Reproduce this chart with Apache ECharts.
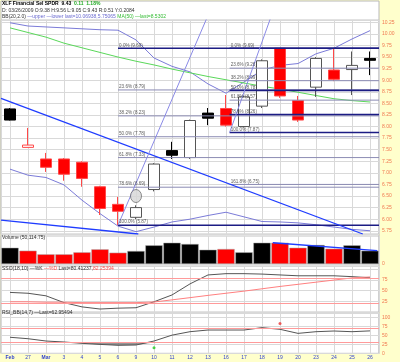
<!DOCTYPE html>
<html><head><meta charset="utf-8">
<script src="https://cdn.jsdelivr.net/npm/echarts@6/dist/echarts.min.js"></script>
<style>html,body{margin:0;padding:0;background:#ffffcc}#c{width:400px;height:362px}</style>
</head><body><div id="c"></div>
<script>
// ---------- data ----------
const dates   = ['Feb','27','Mar','3','4','5','6','9','10','11','12','13','16','17','18','19','20','23','24','25','26'];
const opens   = [8.38,7.55,7.30,7.30,7.23,6.70,6.32,6.04,6.64,7.48,7.33,8.29,8.39,8.00,8.44,9.69,8.56,8.85,9.22,9.23,9.47];
const closes  = [8.14,7.60,7.12,6.97,6.88,6.23,6.17,6.25,7.19,7.38,8.13,8.18,8.03,8.64,9.42,8.66,8.14,9.47,9.02,9.32,9.43];
const highs   = [8.40,7.97,7.43,7.32,7.25,6.72,6.48,6.30,7.21,7.67,8.15,8.40,8.68,8.67,9.45,9.69,8.66,9.50,9.69,9.62,9.62];
const lows    = [8.13,7.55,7.02,6.83,6.70,6.09,5.87,6.00,6.60,7.30,7.30,8.03,8.00,7.98,8.40,8.62,8.10,8.64,8.98,8.68,9.11];
const volumes = [302,247,180,180,217,273,210,241,347,395,371,265,278,217,395,395,302,352,284,347,246.7]; // millions
const bbUpper = [10.24,10.17,10.15,10.13,10.11,10.09,10.08,9.87,9.48,9.30,9.18,8.92,8.72,8.96,9.22,9.32,9.36,9.57,9.69,9.89,10.07];
const bbLower = [7.08,6.95,6.90,6.74,6.41,6.12,5.85,5.73,5.83,5.94,6.00,6.08,6.15,6.05,5.95,5.94,5.92,5.88,5.83,5.78,5.75];
const ma50    = [10.13,10.03,9.93,9.80,9.70,9.60,9.50,9.41,9.33,9.24,9.16,9.08,9.01,8.94,8.87,8.81,8.74,8.67,8.60,8.56,8.53];
const stoK    = [46,44,38,22,12,7,9,10,24,40,66,87,90,90,89,87,85,85,85,83,80.4];
const stoD    = [24,24,23,23,22,22,22,22,23.5,28.5,33.7,39,44,49,54.5,60,65,70,75,80,82.3];
const rsi     = [45,41,34.5,31.7,28,25,22.5,23.3,34.5,51,60.7,65.4,65.4,65.4,72,67.4,56,60.7,62.6,60.7,62.95];
const priceTicks = [5.75,6.00,6.25,6.50,6.75,7.00,7.25,7.50,7.75,8.00,8.25,8.50,8.75,9.00,9.25,9.50,9.75,10.00,10.25];
// Fibonacci retracement annotations (label % and price)
const fibLeftStart = 6.0, fibLeftPct = ['0.0%','23.6%','38.2%','50.0%','61.8%','78.6%','100.0%'];
const fibLeftPrice = [9.69,8.79,8.23,7.78,7.33,6.69,5.87];
const fibRightStart = 12.2, fibRightPct = ['0.0%','23.6%','38.2%','50.0%','61.8%','78.6%','100.0%','161.8%'];
const fibRightPrice = [9.69,9.26,8.99,8.78,8.57,8.26,7.87,6.75];
// drawn trend / speed lines: [x(index), price]
const trend1 = [[-0.5,8.61],[19.6,5.68]];
const trend2 = [[-0.5,5.98],[7.13,5.68]];
const speedA = [[6,5.87],[11,10.40]];
const speedB = [[12.2,7.87],[14.5,10.37]];
const volTrend = [[14.6,395],[20.4,247]];
const ellipse = [[7,6.50]];
const rsiBuy = [[8,15.7]], rsiSell = [[15,84]];

// ---------- chart ----------
const F = 'Liberation Sans, Arial, sans-serif';
const LBL = '#f07850', GRID = '#d9d9d9';
const candleData = closes.map((c,i)=>{
  const red = i>0 && c < closes[i-1];
  const hollow = c > opens[i];
  const fill = hollow ? '#ffffff' : (red ? '#ff0000' : '#000000');
  const border = red ? '#ff4848' : (hollow ? '#555555' : '#000000');
  return {value:[opens[i],c,lows[i],highs[i]], itemStyle:{
    color:fill, color0:fill, borderColor:border, borderColor0:border}};
});
const volData = volumes.map((v,i)=>({value:v, itemStyle:{color:(i>0&&closes[i]<closes[i-1])?'#ff0000':'#000000'}}));

const grids = [
  {left:1,right:21,top:20,height:214},
  {left:1,right:21,top:236,height:28},
  {left:1,right:21,top:266,height:46},
  {left:1,right:21,top:313,height:40.3}
];
const xAxes = [];
grids.forEach((g,gi)=>{
  xAxes.push({type:'category',gridIndex:gi,data:dates,boundaryGap:true,
    axisLine:{show:false},axisTick:{show:false},splitLine:{show:false},
    axisLabel: gi===3 ? {show:true,interval:0,fontSize:5,color:'#3344cc',margin:2,fontFamily:F,
      formatter:v=>(v==='Feb'||v==='Mar')?'{m|'+v+'}':v,rich:{m:{fontSize:5,fontWeight:'bold',color:'#3344cc',fontFamily:F}}} : {show:false}});
  xAxes.push({type:'value',gridIndex:gi,min:-0.5,max:20.5,splitNumber:21,minInterval:1,maxInterval:1,
    axisLine:{show:false},axisTick:{show:false},axisLabel:{show:false},
    splitLine:{show:true,lineStyle:{color:GRID,width:1}}});
});
const axLbl = {fontSize:5,color:LBL,margin:3,fontFamily:F};
const yAxes = [
  {type:'value',gridIndex:0,position:'right',min:5.68,max:10.30,splitNumber:18,minInterval:0.25,maxInterval:0.25,
    axisLine:{show:false},axisTick:{show:false},
    axisLabel:Object.assign({},axLbl,{showMinLabel:false,showMaxLabel:false,
      formatter:v=>priceTicks.some(t=>Math.abs(t-v)<1e-6)?v.toFixed(2):''}),
    splitLine:{lineStyle:{color:GRID}}},
  {type:'value',gridIndex:1,position:'right',min:0,max:520,axisLine:{show:false},axisTick:{show:false},
    axisLabel:Object.assign({},axLbl,{formatter:v=>v===0?'0':''}),splitLine:{show:false}},
  {type:'value',gridIndex:2,position:'right',min:0,max:108,splitNumber:4,minInterval:25,maxInterval:25,
    axisLine:{show:false},axisTick:{show:false},
    axisLabel:Object.assign({},axLbl,{formatter:v=>(v===25||v===50||v===75)?String(v):''}),
    splitLine:{lineStyle:{color:GRID}}},
  {type:'value',gridIndex:3,position:'right',min:0,max:113.2,splitNumber:4,minInterval:25,maxInterval:25,
    axisLine:{show:false},axisTick:{show:false},
    axisLabel:Object.assign({},axLbl,{showMaxLabel:false,formatter:v=>(v%25===0&&v<=100)?String(v):''}),
    splitLine:{lineStyle:{color:GRID}}}
];

const series = [];
series.push({type:'candlestick',xAxisIndex:0,yAxisIndex:0,data:candleData,barWidth:11,z:3,
  itemStyle:{borderWidth:1},
  markLine:{silent:true,symbol:'none',lineStyle:{opacity:0},data:[{yAxis:closes[closes.length-1]}],
    label:{position:'end',distance:1,formatter:closes[closes.length-1].toFixed(2),backgroundColor:'#000',color:'#fff',
      fontSize:5.5,fontWeight:'bold',fontFamily:F,padding:[1,4,0,3]}}});
const simpleLine = (data,color,width,xi,yi,z)=>({type:'line',xAxisIndex:xi,yAxisIndex:yi,data,symbol:'none',
  lineStyle:{color,width},z:z||2,silent:true});
series.push(simpleLine(bbUpper,'#7b7bd8',1,0,0));
series.push(simpleLine(bbLower,'#7b7bd8',1,0,0));
series.push(simpleLine(ma50,'#5ad85a',1,0,0));
// fib lines
const fibLabels = [];
fibLeftPrice.forEach((p,i)=>{
  const strong = (i===0||i===fibLeftPrice.length-1);
  series.push(simpleLine([[fibLeftStart,p],[20.5,p]], strong?'#1c1c84':'#8c8cb4', strong?1.6:1,1,0,4));
  fibLabels.push([fibLeftStart,p,fibLeftPct[i]+' ('+p.toFixed(2)+')']);
});
fibRightPrice.forEach((p,i)=>{
  const strong = (i===0||i===6||i===3||i===5);
  series.push(simpleLine([[fibRightStart,p],[20.5,p]], strong?'#1c1c84':'#8c8cb4', strong?1.6:1,1,0,4));
  fibLabels.push([fibRightStart,p,fibRightPct[i]+' ('+p.toFixed(2)+')']);
});
series.push({type:'scatter',xAxisIndex:1,yAxisIndex:0,data:fibLabels,symbolSize:0.1,z:6,silent:true,
  label:{show:true,position:'right',distance:1,offset:[0,-3],formatter:p=>p.data[2],fontSize:4.6,color:'#333',fontFamily:F}});
series.push(simpleLine(trend1,'#1f3cff',1.3,1,0,5));
series.push(simpleLine(trend2,'#1f3cff',1.3,1,0,5));
series.push(simpleLine(speedA,'#8a8ae6',1,1,0,5));
series.push(simpleLine(speedB,'#8a8ae6',1,1,0,5));
series.push({type:'scatter',xAxisIndex:0,yAxisIndex:0,data:ellipse,symbol:'circle',symbolSize:[11,13],z:5,silent:true,
  itemStyle:{color:'#d6d6d6',borderColor:'#555',borderWidth:0.8}});
// volume
series.push({type:'bar',xAxisIndex:2,yAxisIndex:1,data:volData,barCategoryGap:'4%',silent:true,
  itemStyle:{borderColor:'#aaa',borderWidth:0.5},
  markLine:{silent:true,symbol:'none',lineStyle:{opacity:0},data:[{yAxis:volumes[volumes.length-1]}],
    label:{position:'end',distance:1,formatter:volumes[volumes.length-1].toFixed(1)+'M',backgroundColor:'#000',color:'#fff',
      fontSize:5,fontWeight:'bold',fontFamily:F,padding:[1,2,0,2]}}});
series.push(simpleLine(volTrend,'#1f3cff',1.3,3,1,5));
// stochastic
series.push(Object.assign(simpleLine(stoK,'#555',1,4,2,3),{
  markLine:{silent:true,symbol:'none',label:{show:false},lineStyle:{color:'#ff9a9a',width:1,type:'solid'},data:[{yAxis:80},{yAxis:20}]}}));
series.push(simpleLine(stoD,'#ff8080',1,4,2,3));
// RSI
series.push({type:'line',xAxisIndex:6,yAxisIndex:3,data:rsi.map(v=>Math.min(v,30)),stack:'lo',symbol:'none',lineStyle:{opacity:0},silent:true});
series.push({type:'line',xAxisIndex:6,yAxisIndex:3,data:rsi.map(v=>30-Math.min(v,30)),stack:'lo',symbol:'none',lineStyle:{opacity:0},areaStyle:{color:'#6a6a6a'},silent:true});
series.push({type:'line',xAxisIndex:6,yAxisIndex:3,data:rsi.map(()=>70),stack:'hi',symbol:'none',lineStyle:{opacity:0},silent:true});
series.push({type:'line',xAxisIndex:6,yAxisIndex:3,data:rsi.map(v=>Math.max(v,70)-70),stack:'hi',symbol:'none',lineStyle:{opacity:0},areaStyle:{color:'#ff6060'},silent:true});
series.push(Object.assign(simpleLine(rsi,'#555',1,6,3,4),{
  markLine:{silent:true,symbol:'none',label:{show:false},lineStyle:{color:'#ff9a9a',width:1,type:'solid'},data:[{yAxis:70},{yAxis:30}]}}));
series.push({type:'scatter',xAxisIndex:6,yAxisIndex:3,data:rsiBuy,symbolSize:3,itemStyle:{color:'#22cc22'},silent:true});
series.push({type:'scatter',xAxisIndex:6,yAxisIndex:3,data:rsiSell,symbolSize:3,itemStyle:{color:'#ee3333'},silent:true});

const ttl = (top,text,rich)=>({left:2,top,padding:0,text,textStyle:{fontSize:5,fontFamily:F,color:'#222',fontWeight:'normal',rich}});
const R = {
  b:{fontSize:5,fontWeight:'bold',color:'#000',fontFamily:F},
  g:{fontSize:5,fontWeight:'bold',color:'#22aa22',fontFamily:F},
  k:{fontSize:5,color:'#333',fontFamily:F},
  p:{fontSize:5,color:'#6a6ad0',fontFamily:F},
  m:{fontSize:5,color:'#33bb33',fontFamily:F},
  r:{fontSize:5,color:'#ff5050',fontFamily:F}
};
const option = {
  animation:false,
  backgroundColor:'#ffffcc',
  graphic:[{type:'rect',silent:true,z:-10,shape:{x:1,y:1,width:378,height:352.5},style:{fill:'#ffffff',stroke:'#b8b8b8',lineWidth:1}}],
  title:[
    ttl(1.5,'{b|XLF Financial Sel SPDR  '+closes[20].toFixed(2)+'}  {g|0.11  1.18%}',R),
    ttl(8,'{k|D: 03/26/2009 O:9.38 H:9.56 L:9.05 C:9.43 R:0.51 Y:0.2084}',R),
    ttl(14,'{k|BB(20,2.0)} {p|—upper —lower last=10.06938,5.75065} {m|MA(50) —last=8.5302}',R),
    ttl(235.5,'{k|Volume (50,114.75)}',R),
    ttl(266.5,'{k|SSO(18,10) —%K} {r|—%D} {k|Last=80.41237,}{r|82.25394}',R),
    ttl(310.5,'{k|RSI_BB(14,7) —Last=62.95494}',R)
  ],
  grid:grids.map(g=>Object.assign({show:true,borderColor:'#c4c4c4',borderWidth:1,backgroundColor:'transparent'},g)),
  xAxis:xAxes,
  yAxis:yAxes,
  series
};
const chart = echarts.init(document.getElementById('c'));
chart.setOption(option);
</script></body></html>
